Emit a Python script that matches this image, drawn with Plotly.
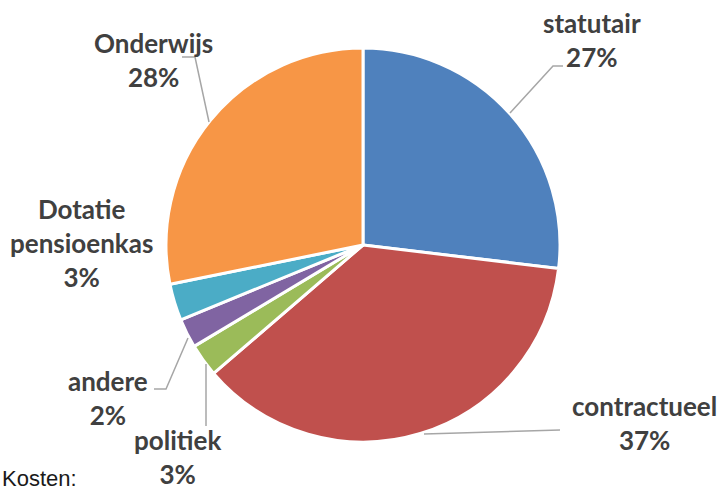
import plotly.graph_objects as go

W, H = 720, 492

labels = ["statutair", "contractueel", "politiek", "andere", "Dotatie pensioenkas", "Onderwijs"]
values = [26.9, 36.8, 2.7, 2.4, 3.0, 28.2]
colors = ["#4F81BD", "#C0504D", "#9BBB59", "#8064A2", "#4BACC6", "#F79646"]
label_texts = ["statutair", "contractueel", "politiek", "andere", "Dotatie<br>pensioenkas", "Onderwijs"]
pct_texts = ["27%", "37%", "3%", "2%", "3%", "28%"]

# label anchor positions (pixels, centre of text block)
label_pos = [(592, 40), (644, 423), (177, 457), (108, 398), (81, 243), (153, 60)]

# leader lines in pixels
leaders = [
    [(510, 113), (553, 66), (563, 66)],
    [(424, 434), (560, 430)],
    [(206, 364), (206, 426)],
    [(188, 338), (166, 389), (154, 389)],
    None,
    [(209, 122), (195, 57), (182, 57)],
]

cx, cy, r = 363, 245, 197


def px(x):
    return x / W


def py(y):
    return 1 - y / H


fig = go.Figure(
    go.Pie(
        labels=labels,
        values=values,
        sort=False,
        direction="clockwise",
        rotation=0,
        marker=dict(colors=colors, line=dict(color="white", width=3)),
        textinfo="none",
        hoverinfo="label+percent",
        domain=dict(x=[px(cx - r), px(cx + r)], y=[py(cy + r), py(cy - r)]),
        showlegend=False,
    )
)

annotations = []
for t, p, (x, y) in zip(label_texts, pct_texts, label_pos):
    annotations.append(
        dict(
            x=px(x), y=py(y), xref="paper", yref="paper",
            text=f"<b>{t}<br>{p}</b>", showarrow=False,
            xanchor="center", yanchor="middle", align="center",
            font=dict(family="Lato, Carlito, sans-serif", size=26, color="#404040"),
        )
    )

annotations.append(
    dict(
        x=px(0), y=py(478), xref="paper", yref="paper",
        text="Kosten:", showarrow=False, xanchor="left", yanchor="middle",
        font=dict(family="Liberation Sans Narrow, Liberation Sans, Arial", size=22, color="#1a1a1a"),
    )
)

shapes = []
for seg in leaders:
    if seg is None:
        continue
    path = "M " + " L ".join(f"{px(x)},{py(y)}" for x, y in seg)
    shapes.append(
        dict(type="path", path=path, xref="paper", yref="paper",
             line=dict(color="#A6A6A6", width=1.5))
    )

fig.update_layout(
    width=W, height=H,
    margin=dict(l=0, r=0, t=0, b=0),
    paper_bgcolor="white",
    plot_bgcolor="white",
    annotations=annotations,
    shapes=shapes,
)

fig.write_html(
    "out.html",
    config={"displayModeBar": False},
    post_script="document.body.style.margin='0';document.body.style.overflow='hidden';",
)
